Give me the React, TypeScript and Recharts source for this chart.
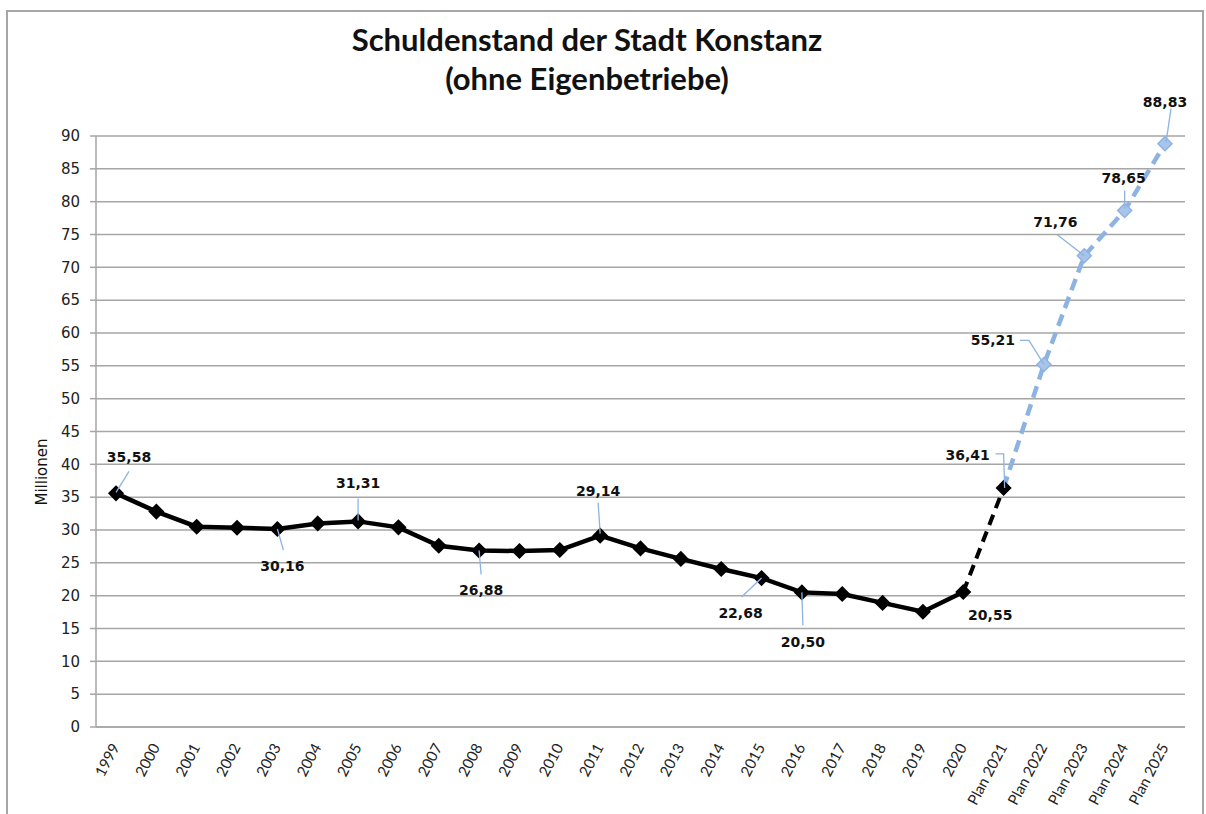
import React from 'react';
import { LineChart, Line, XAxis, YAxis, CartesianGrid, LabelList } from 'recharts';

// Schuldenstand in Mio. EUR
const years = [
  '1999', '2000', '2001', '2002', '2003', '2004', '2005', '2006', '2007', '2008', '2009',
  '2010', '2011', '2012', '2013', '2014', '2015', '2016', '2017', '2018', '2019', '2020',
];
const planYears = ['Plan 2021', 'Plan 2022', 'Plan 2023', 'Plan 2024', 'Plan 2025'];

const actualValues = [
  35.58, 32.8, 30.5, 30.35, 30.16, 31.0, 31.31, 30.4, 27.6, 26.88, 26.8,
  26.95, 29.14, 27.2, 25.6, 24.06, 22.68, 20.5, 20.25, 18.9, 17.55, 20.55,
];
const planValues = [36.41, 55.21, 71.76, 78.65, 88.83];

const yTicks = [0, 5, 10, 15, 20, 25, 30, 35, 40, 45, 50, 55, 60, 65, 70, 75, 80, 85, 90];

// which points carry a value label, where the text sits and the leader line
type Placement = { dx: number; dy: number; leader?: number[][] };
const labelPlacement: Record<string, Placement> = {
  '1999': { dx: 13, dy: -36, leader: [[0, -1], [13, -22]] },
  '2003': { dx: 5, dy: 37, leader: [[0, 0], [6, 21]] },
  '2005': { dx: 0, dy: -38, leader: [[0, -1], [0, -23]] },
  '2008': { dx: 2, dy: 40, leader: [[0, 0], [2, 24]] },
  '2011': { dx: -2, dy: -45, leader: [[0, -2], [-2, -33]] },
  '2015': { dx: -21, dy: 35, leader: [[0, 0], [-20, 19]] },
  '2016': { dx: 1, dy: 50, leader: [[0, 0], [1, 33]] },
  '2020': { dx: 27, dy: 23 },
  'Plan 2021': { dx: -36, dy: -33, leader: [[1, 0], [0, -34], [-8, -34]] },
  'Plan 2022': { dx: -51, dy: -24, leader: [[0, 0], [-15, -24], [-24, -24]] },
  'Plan 2023': { dx: -29, dy: -34, leader: [[0, 0], [-27, -21]] },
  'Plan 2024': { dx: -1, dy: -33, leader: [[0, -2], [0, -20]] },
  'Plan 2025': { dx: 0, dy: -42, leader: [[1, -1], [6, -35]] },
};

const categories = [...years, ...planYears];
const lastActual = years.length - 1;

const data = categories.map((cat, i) => ({
  cat,
  actual: i <= lastActual ? actualValues[i] : null,
  bridge: i === lastActual ? actualValues[i] : i === lastActual + 1 ? planValues[0] : null,
  plan: i > lastActual ? planValues[i - lastActual - 1] : null,
}));

const fmt = (v: number) => v.toFixed(2).replace('.', ',');

const Diamond = ({ cx, cy, fill, stroke, size }: any) => {
  if (cx == null || cy == null) return null;
  const r = size;
  return (
    <polygon
      points={`${cx},${cy - r} ${cx + r},${cy} ${cx},${cy + r} ${cx - r},${cy}`}
      fill={fill}
      stroke={stroke}
      strokeWidth={1.5}
    />
  );
};

const ValueLabel = (props: any) => {
  const { x, y, value, index } = props;
  if (value == null || x == null) return null;
  const p = labelPlacement[categories[index]];
  if (!p) return null;
  return (
    <g>
      {p.leader && (
        <polyline
          points={p.leader.map(([a, b]) => `${x + a},${y + b}`).join(' ')}
          fill="none"
          stroke="#8DB3E2"
          strokeWidth={1.3}
        />
      )}
      <text
        x={x + p.dx}
        y={y + p.dy}
        textAnchor="middle"
        dominantBaseline="central"
        fontFamily="'DejaVu Sans', sans-serif"
        fontWeight="bold"
        fontSize={14}
        fill="#111"
      >
        {fmt(value)}
      </text>
    </g>
  );
};

const XTick = ({ x, y, payload }: any) => (
  <text
    x={x + 4}
    y={y + 12}
    textAnchor="end"
    transform={`rotate(-62, ${x + 4}, ${y + 12})`}
    fontFamily="Lato, sans-serif"
    fontSize={15}
    fill="#222"
  >
    {payload.value}
  </text>
);

export default function App() {
  return (
    <div style={{ position: 'fixed', left: 0, top: 0, width: 1206, height: 814, background: '#fff', overflow: 'hidden' }}>
      <div
        style={{
          position: 'absolute', left: 0, top: 20, width: 1174, textAlign: 'center',
          fontFamily: 'Lato, sans-serif',
          fontWeight: 'bold', fontSize: 31, lineHeight: '39px', color: '#111',
        }}
      >
        Schuldenstand der Stadt Konstanz
        <br />
        (ohne Eigenbetriebe)
      </div>
      <div
        style={{
          position: 'absolute', left: 42, top: 472, width: 0, height: 0,
        }}
      >
        <div
          style={{
            position: 'absolute', transform: 'translate(-50%, -50%) rotate(-90deg)',
            fontFamily: "'DejaVu Sans', sans-serif", fontSize: 15, whiteSpace: 'nowrap', color: '#111',
          }}
        >
          Millionen
        </div>
      </div>
      <div style={{ position: 'absolute', left: 0, top: 0 }}>
        <LineChart width={1206} height={814} data={data} margin={{ top: 136, right: 21, bottom: 0, left: 36 }}>
          <CartesianGrid horizontal vertical={false} stroke="#A6A6A6" strokeWidth={1.5} />
          <XAxis
            dataKey="cat"
            interval={0}
            padding={{ left: 20, right: 20 }}
            height={87}
            tickLine={false}
            axisLine={{ stroke: '#A6A6A6', strokeWidth: 1.5 }}
            tick={<XTick />}
          />
          <YAxis
            domain={[0, 90]}
            ticks={yTicks}
            interval={0}
            width={60}
            tickSize={6}
            tickMargin={10}
            axisLine={{ stroke: '#A6A6A6', strokeWidth: 1.5 }}
            tickLine={{ stroke: '#A6A6A6', strokeWidth: 1.5 }}
            tick={{ fontFamily: "'DejaVu Sans', sans-serif", fontSize: 15, fill: '#222' }}
          />
          <Line
            dataKey="actual"
            stroke="#000"
            strokeWidth={4.5}
            connectNulls={false}
            isAnimationActive={false}
            dot={(p: any) => <Diamond key={`a${p.index}`} cx={p.cx} cy={p.cy} size={7} fill="#000" stroke="#000" />}
            activeDot={false}
          >
            <LabelList dataKey="actual" content={<ValueLabel />} />
          </Line>
          <Line
            dataKey="bridge"
            stroke="#000"
            strokeWidth={4}
            strokeDasharray="11 7"
            isAnimationActive={false}
            dot={(p: any) =>
              p.index === lastActual + 1 ? (
                <Diamond key={`b${p.index}`} cx={p.cx} cy={p.cy} size={7} fill="#000" stroke="#000" />
              ) : (
                <g key={`b${p.index}`} />
              )
            }
            activeDot={false}
          />
          <Line
            dataKey="plan"
            stroke="#8DB3E2"
            strokeWidth={4.5}
            strokeDasharray="12 7"
            isAnimationActive={false}
            dot={(p: any) =>
              p.index === lastActual + 1 ? (
                <g key={`p${p.index}`} />
              ) : (
                <Diamond key={`p${p.index}`} cx={p.cx} cy={p.cy} size={7} fill="#A9C4EB" stroke="#8DB3E2" />
              )
            }
            activeDot={false}
          >
            <LabelList dataKey="plan" content={<ValueLabel />} />
          </Line>
        </LineChart>
      </div>
      <svg width={1206} height={814} style={{ position: 'absolute', left: 0, top: 0, pointerEvents: 'none' }}>
        <rect x={7} y={11} width={1196} height={820} fill="none" stroke="#A6A6A6" strokeWidth={2} />
      </svg>
    </div>
  );
}
